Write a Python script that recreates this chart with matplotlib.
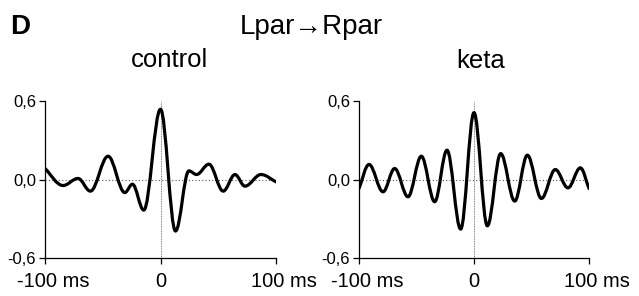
import numpy as np
import matplotlib
matplotlib.use("Agg")
import matplotlib.pyplot as plt
from matplotlib.path import Path
from matplotlib.patches import PathPatch
from matplotlib.transforms import ScaledTranslation

plt.rcParams['font.family'] = ['Liberation Sans', 'DejaVu Sans']

# peaks and troughs (lag in ms, correlation),
# plus the two end points of each trace
t_control = [-100, -84.4, -71.4, -60.7, -45.4, -30.9, -24.3, -14.5, 0, 13.0,
             24.6, 31.2, 41.9, 54.3, 64.5, 73.1, 87.0, 100]
v_control = [0.084, -0.046, 0.008, -0.089, 0.178, -0.100, -0.036, -0.234, 0.537, -0.394,
             0.066, 0.038, 0.117, -0.089, 0.038, -0.051, 0.038, -0.018]

t_keta = [-100, -91.3, -79.1, -69.0, -57.4, -45.8, -34.2, -23.5, -11.6, 0,
          11.6, 23.2, 35.4, 46.4, 58.6, 70.7, 81.7, 92.5, 100]
v_keta = [-0.069, 0.115, -0.094, 0.084, -0.132, 0.178, -0.170, 0.224, -0.379, 0.511,
          -0.354, 0.198, -0.165, 0.186, -0.145, 0.076, -0.064, 0.089, -0.069]

xticks = [-100, 0, 100]
xlabels = ['-100 ms', '0', '100 ms']
yticks = [-0.6, 0.0, 0.6]
ylabels = ['-0,6', '0,0', '0,6']


def smooth_path(t, v, k=0.364):
    # cubic Bezier pieces with flat tangents at the peaks/troughs
    verts = [(t[0], v[0])]
    codes = [Path.MOVETO]
    n = len(t)
    for i in range(n - 1):
        ta, va, tb, vb = t[i], v[i], t[i + 1], v[i + 1]
        dt = tb - ta
        if i == 0:
            c1 = (ta + dt / 3, va + (vb - va) / 3)
        else:
            c1 = (ta + k * dt, va)
        if i + 1 == n - 1:
            c2 = (tb - dt / 3, vb - (vb - va) / 3)
        else:
            c2 = (tb - k * dt, vb)
        verts += [c1, c2, (tb, vb)]
        codes += [Path.CURVE4] * 3
    return Path(verts, codes)


fig = plt.figure(figsize=(6.39, 2.96), dpi=100)
ax1 = fig.add_axes([45/639, 38/296, 231/639, 157/296])
ax2 = fig.add_axes([359/639, 38/296, 230/639, 157/296])

for ax, t, v in [(ax1, t_control, v_control), (ax2, t_keta, v_keta)]:
    ax.axhline(0, color='#555555', lw=0.8, ls=(0, (1, 2)), zorder=1)
    ax.axvline(0, color='#555555', lw=0.6, ls=(0, (1, 1)), zorder=1)
    ax.add_patch(PathPatch(smooth_path(t, v), fill=False, ec='black', lw=2.3,
                           joinstyle='round', capstyle='round', zorder=3))
    ax.set_xlim(-100, 100)
    ax.set_ylim(-0.6, 0.6)
    for s in ['top', 'right']:
        ax.spines[s].set_visible(False)
    for s in ['left', 'bottom']:
        ax.spines[s].set_linewidth(0.9)
    ax.set_xticks(xticks)
    ax.set_xticklabels(xlabels, fontsize=14.5)
    ax.set_yticks(yticks)
    ax.set_yticklabels(ylabels, fontsize=12)
    ax.tick_params(axis='both', direction='out', length=4, width=0.9)
    ax.tick_params(axis='x', pad=6)
    ax.tick_params(axis='y', pad=2.5)
    labs = ax.get_xticklabels()
    for i in [0, 2]:
        labs[i].set_transform(labs[i].get_transform() +
                              ScaledTranslation(8/100, 0, fig.dpi_scale_trans))

fig.text(10/639, 1 - 34/296, 'D', fontsize=20, fontweight='bold', va='baseline')
fig.text(311/639, 1 - 34/296, 'Lpar\u2192Rpar', fontsize=20, ha='center', va='baseline')
fig.text(170/639, 1 - 67/296, 'control', fontsize=18.5, ha='center', va='baseline')
fig.text(481/639, 1 - 68/296, 'keta', fontsize=18.5, ha='center', va='baseline')

fig.savefig('out.png', dpi=100)
